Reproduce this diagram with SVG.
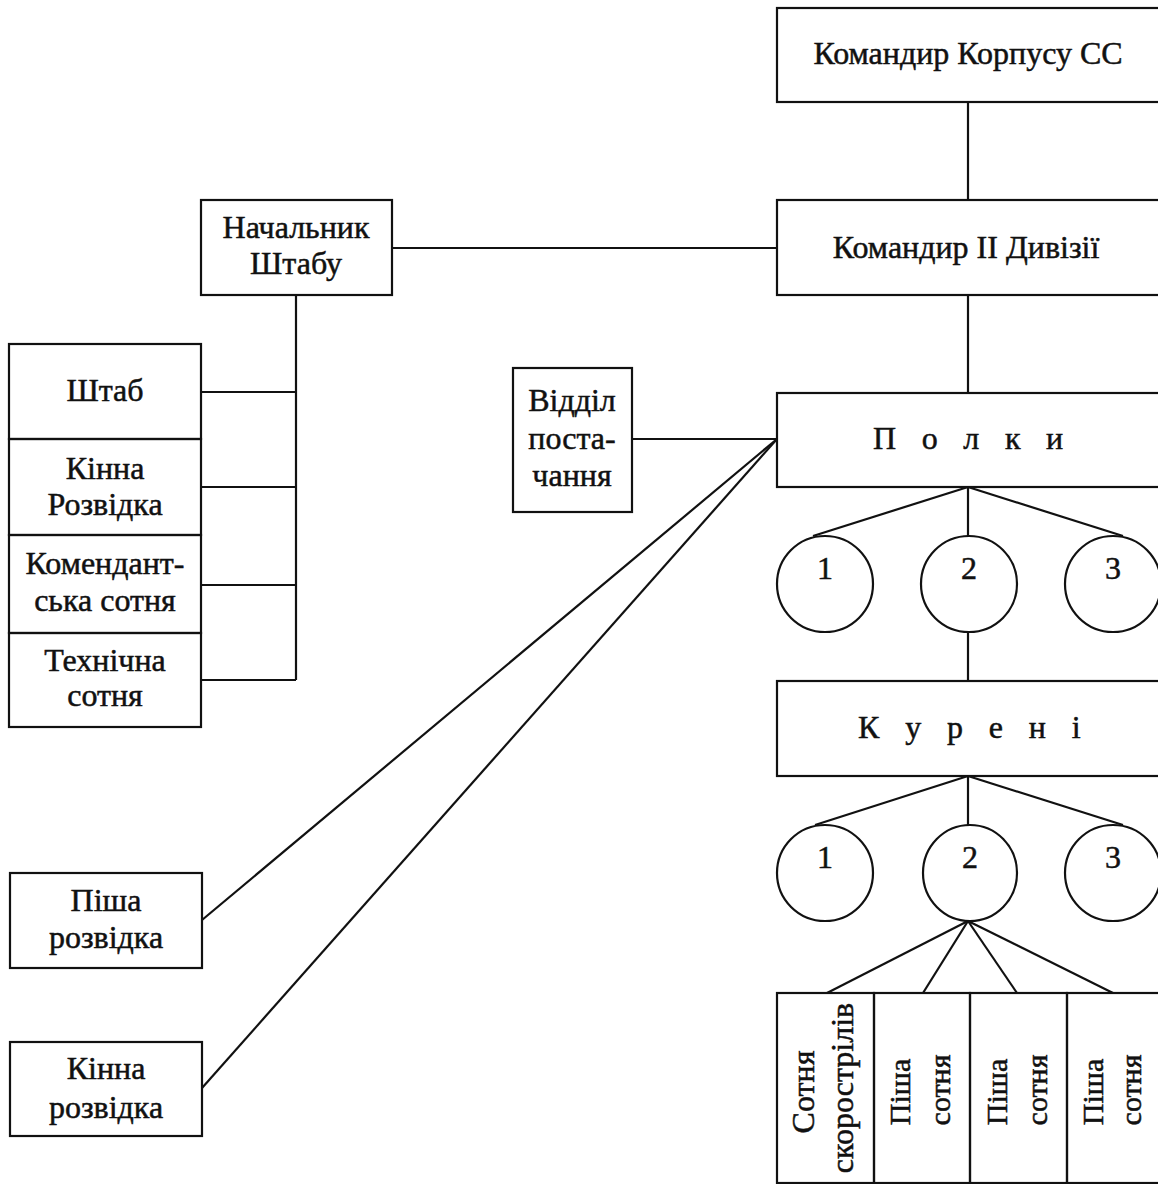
<svg xmlns="http://www.w3.org/2000/svg" width="1158" height="1184" viewBox="0 0 1158 1184">
<style>
rect,ellipse{fill:none;stroke:#111;stroke-width:2.2}
line{stroke:#111;stroke-width:2.2;fill:none}
text{font-family:"Liberation Serif","Times New Roman",serif;font-size:32px;fill:#111;stroke:#111;stroke-width:0.5;text-anchor:middle}
.sp{text-anchor:start}
.v{font-size:30px}
</style>
<rect x="0" y="0" width="1158" height="1184" style="fill:#fff;stroke:none"/>
<g id="connectors">
<line x1="968" y1="102" x2="968" y2="200"/>
<line x1="968" y1="295" x2="968" y2="393"/>
<line x1="392" y1="248" x2="777" y2="248"/>
<line x1="296" y1="295" x2="296" y2="680"/>
<line x1="201" y1="392" x2="296" y2="392"/>
<line x1="201" y1="487" x2="296" y2="487"/>
<line x1="201" y1="585" x2="296" y2="585"/>
<line x1="201" y1="680" x2="296" y2="680"/>
<line x1="632" y1="439" x2="777" y2="439"/>
<line x1="777" y1="439" x2="202" y2="920"/>
<line x1="777" y1="439" x2="202" y2="1088"/>
<line x1="968" y1="487" x2="813" y2="536"/>
<line x1="968" y1="487" x2="968" y2="536"/>
<line x1="968" y1="487" x2="1123" y2="536"/>
<line x1="968" y1="632" x2="968" y2="681"/>
<line x1="968" y1="776" x2="815" y2="825"/>
<line x1="968" y1="776" x2="968" y2="825"/>
<line x1="968" y1="776" x2="1123" y2="825"/>
<line x1="968" y1="921" x2="827" y2="993"/>
<line x1="968" y1="921" x2="923" y2="993"/>
<line x1="968" y1="921" x2="1017" y2="993"/>
<line x1="968" y1="921" x2="1113" y2="993"/>
</g>
<g id="korpus">
<rect x="777" y="8" width="385" height="94"/>
<text x="968" y="64">Командир Корпусу СС</text>
</g>
<g id="dyviziya">
<rect x="777" y="200" width="385" height="95"/>
<text x="966" y="258">Командир II Дивізії</text>
</g>
<g id="nachalnyk">
<rect x="201" y="200" width="191" height="95"/>
<text x="296" y="238">Начальник</text>
<text x="296" y="274">Штабу</text>
</g>
<g id="shtab">
<rect x="9" y="344" width="192" height="95"/>
<text x="105" y="401">Штаб</text>
</g>
<g id="kinna-rozvidka-1">
<rect x="9" y="439" width="192" height="96"/>
<text x="105" y="479">Кінна</text>
<text x="105" y="515">Розвідка</text>
</g>
<g id="komendantska">
<rect x="9" y="535" width="192" height="98"/>
<text x="105" y="574">Комендант-</text>
<text x="105" y="611">ська сотня</text>
</g>
<g id="tekhnichna">
<rect x="9" y="633" width="192" height="94"/>
<text x="105" y="671">Технічна</text>
<text x="105" y="706">сотня</text>
</g>
<g id="viddil">
<rect x="513" y="368" width="119" height="144"/>
<text x="572" y="411">Відділ</text>
<text x="572" y="449">поста-</text>
<text x="572" y="486">чання</text>
</g>
<g id="polky">
<rect x="777" y="393" width="385" height="94"/>
<text class="sp" x="873" y="449" letter-spacing="8.8">П о л к и</text>
</g>
<g id="polk-1"><ellipse cx="825" cy="584" rx="48" ry="48"/><text x="825" y="579">1</text></g>
<g id="polk-2"><ellipse cx="969" cy="584" rx="48" ry="48"/><text x="969" y="579">2</text></g>
<g id="polk-3"><ellipse cx="1113" cy="584" rx="48" ry="48"/><text x="1113" y="579">3</text></g>
<g id="kureni">
<rect x="777" y="681" width="385" height="95"/>
<text class="sp" x="858" y="738" letter-spacing="8.9">К у р е н і</text>
</g>
<g id="kurin-1"><ellipse cx="825" cy="873" rx="48" ry="48"/><text x="825" y="868">1</text></g>
<g id="kurin-2"><ellipse cx="970" cy="873" rx="47" ry="48"/><text x="970" y="868">2</text></g>
<g id="kurin-3"><ellipse cx="1113" cy="873" rx="48" ry="48"/><text x="1113" y="868">3</text></g>
<g id="sotnya-skorostriliv">
<rect x="777" y="993" width="97" height="190"/>
<text transform="translate(814 1092) rotate(-90)">Сотня</text>
<text transform="translate(853 1088) rotate(-90)">скорострілів</text>
</g>
<g id="pisha-sotnya-1">
<rect x="874" y="993" width="96" height="190"/>
<text class="v" transform="translate(910 1092) rotate(-90)">Піша</text>
<text class="v" transform="translate(950 1090) rotate(-90)">сотня</text>
</g>
<g id="pisha-sotnya-2">
<rect x="970" y="993" width="97" height="190"/>
<text class="v" transform="translate(1007 1092) rotate(-90)">Піша</text>
<text class="v" transform="translate(1047 1090) rotate(-90)">сотня</text>
</g>
<g id="pisha-sotnya-3">
<rect x="1067" y="993" width="95" height="190"/>
<text class="v" transform="translate(1103 1092) rotate(-90)">Піша</text>
<text class="v" transform="translate(1141 1090) rotate(-90)">сотня</text>
</g>
<g id="pisha-rozvidka">
<rect x="10" y="873" width="192" height="95"/>
<text x="106" y="911">Піша</text>
<text x="106" y="948">розвідка</text>
</g>
<g id="kinna-rozvidka-2">
<rect x="10" y="1042" width="192" height="94"/>
<text x="106" y="1079">Кінна</text>
<text x="106" y="1118">розвідка</text>
</g>
</svg>
